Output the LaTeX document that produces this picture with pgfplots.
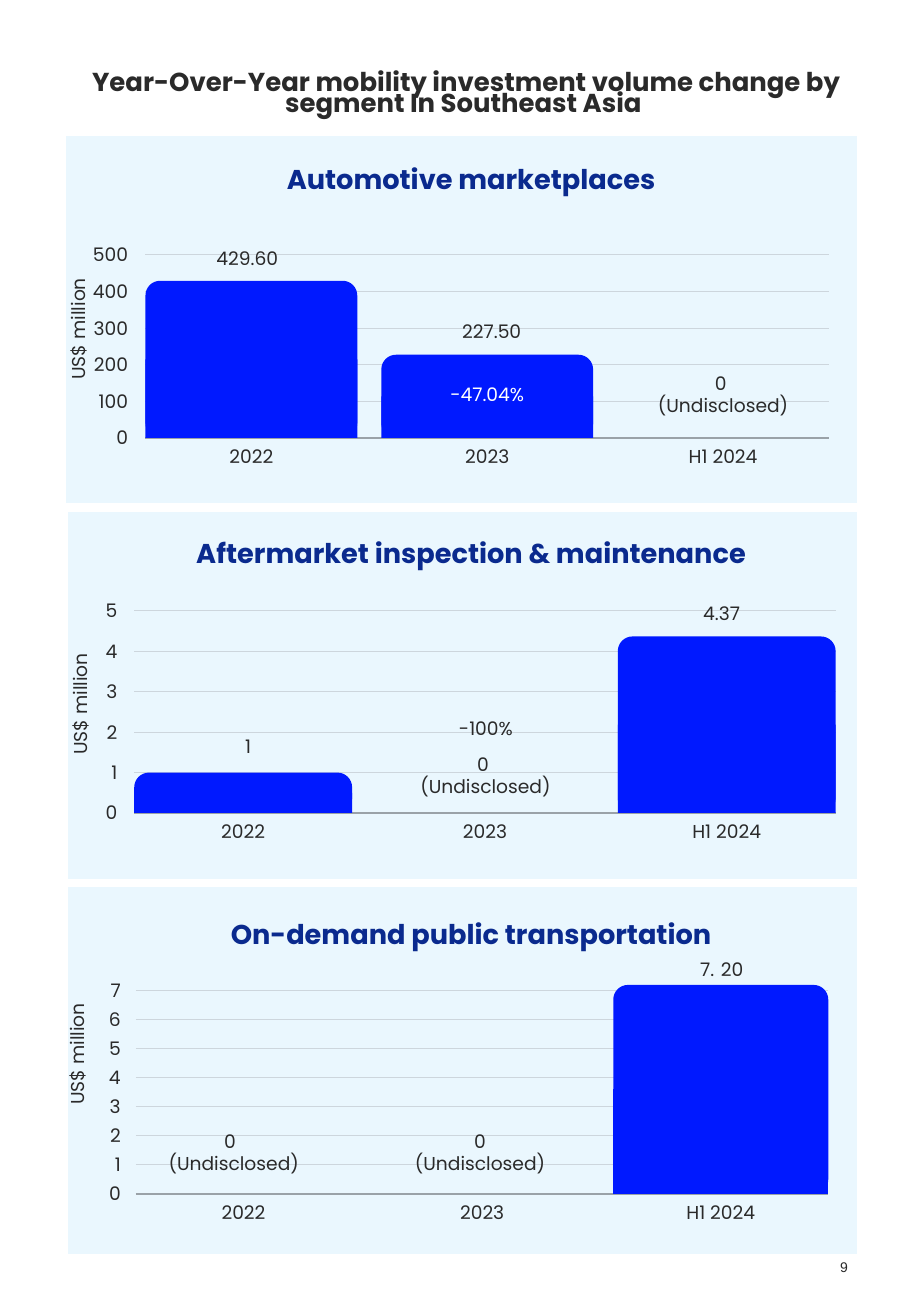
\documentclass[border=0pt]{standalone}
\usepackage{fontspec}
\setmainfont{Poppins}
\newfontfamily\pagefont{Liberation Sans}
\usepackage{pgfplots}
\usepackage{pgfplotstable}
\pgfplotsset{compat=1.18}

\definecolor{panelbg}{HTML}{EAF7FE}
\definecolor{barblue}{HTML}{0019FF}
\definecolor{navy}{HTML}{0A2A8E}
\definecolor{gridc}{HTML}{CDD6DD}
\definecolor{basec}{HTML}{9AA2A8}
\definecolor{txt}{HTML}{2A2A2A}

\newcommand\lbl{\fontsize{14}{16}\selectfont}

% Investment volume, US$ million (x: 0 = 2022, 1 = 2023, 2 = H1 2024)
\pgfplotstableread{
x v
0 429.60
1 227.50
2 0
}\automotive
\pgfplotstableread{
x v
0 1
1 0
2 4.37
}\aftermarket
\pgfplotstableread{
x v
0 0
1 0
2 7.20
}\ondemand

\pgfplotsset{
  segment/.style={
    scale only axis, anchor=south west,
    ybar, enlargelimits=false, clip=false,
    ymin=0,
    xtick={0,1,2}, xticklabels={2022,2023,H1 2024},
    ymajorgrids, grid style={draw=gridc, line width=0.75pt},
    axis x line*=bottom, axis y line*=left,
    x axis line style={draw=basec, line width=0.9pt},
    y axis line style={draw=none},
    major tick length=0pt,
    ticklabel style={font=\lbl, text=txt},
    /pgf/number format/assume math mode=true,
    xticklabel style={anchor=north, inner sep=0pt, yshift=-8.3pt},
    yticklabel style={anchor=east, inner sep=0pt},
    ylabel={US\$ million},
    ylabel style={font=\lbl, text=txt, anchor=center, inner sep=0pt},
  },
  % bar with rounded corners
  segbar/.style={draw=none, fill=barblue, bar shift=0pt, rounded corners=11pt,
    restrict y to domain=0.000001:1000000},
  % square lower half of the same bar, so only the top corners stay rounded
  segfoot/.style={draw=none, fill=barblue, bar shift=0pt, sharp corners,
    restrict y to domain=0.000001:1000000},
}
\tikzset{vlab/.style={font=\lbl, text=txt, inner sep=0pt, anchor=base}}

\begin{document}
\begin{tikzpicture}
\fill[white] (0,0) rectangle (690pt,977.25pt);

% panels
\fill[panelbg] (49.5pt,600pt) rectangle (642.75pt,875.25pt);
\fill[panelbg] (51pt,318pt) rectangle (642.75pt,593.25pt);
\fill[panelbg] (51pt,36.75pt) rectangle (642.75pt,312pt);

% heading
\node[anchor=base, font=\bfseries\fontsize{19.45}{20}\selectfont, text=txt, inner sep=0pt]
  at (349.5pt,908.5pt) {Year-Over-Year mobility investment volume change by};
\node[anchor=base, font=\bfseries\fontsize{19.45}{20}\selectfont, text=txt, inner sep=0pt]
  at (347.5pt,892.5pt) {segment In Southeast Asia};

% panel titles
\node[anchor=base, font=\bfseries\fontsize{20.4}{24}\selectfont, text=navy, inner sep=0pt]
  at (353.25pt,834.75pt) {Automotive marketplaces};
\node[anchor=base, font=\bfseries\fontsize{20.4}{24}\selectfont, text=navy, inner sep=0pt]
  at (353.25pt,554.25pt) {Aftermarket inspection \& maintenance};
\node[anchor=base, font=\bfseries\fontsize{20.4}{24}\selectfont, text=navy, inner sep=0pt]
  at (353.25pt,268.5pt) {On-demand public transportation};

% Automotive marketplaces
\begin{axis}[segment,
  at={(109.1pt,648.75pt)}, width=512.6pt, height=137.25pt,
  xmin=-0.449, xmax=2.449, bar width=0.898,
  ymax=500, ytick={0,100,...,500},
  yticklabel style={xshift=-12.9pt},
  ylabel style={at={(axis description cs:-0.0966,0.596)}},
]
\addplot[segbar] table[x=x, y=v] {\automotive};
\addplot[segfoot] table[x=x, y expr=\thisrow{v}/2] {\automotive};
\node[vlab, yshift=11.1pt] at (axis cs:-0.017,429.6) {429.60};
\node[vlab, yshift=12.3pt] at (axis cs:1.019,227.5) {227.50};
\node[vlab, text=white] at (axis cs:1,99.2) {-47.04\%};
\node[vlab] at (axis cs:1.99,129.2) {0};
\node[vlab] at (axis cs:2,69.1) {(Undisclosed)};
\end{axis}

% Aftermarket inspection & maintenance
\begin{axis}[segment,
  at={(100.7pt,367.5pt)}, width=526pt, height=151.5pt,
  xmin=-0.4504, xmax=2.4504, bar width=0.901,
  ymax=5, ytick={0,1,...,5},
  yticklabel style={xshift=-12.4pt},
  ylabel style={at={(axis description cs:-0.0767,0.54)}},
]
\addplot[segbar] table[x=x, y=v] {\aftermarket};
\addplot[segfoot] table[x=x, y expr=\thisrow{v}/2] {\aftermarket};
\node[vlab, yshift=14.5pt] at (axis cs:0.02,1) {1};
\node[vlab] at (axis cs:1.004,1.906) {-100\%};
\node[vlab] at (axis cs:0.992,1.022) {0};
\node[vlab] at (axis cs:1.002,0.488) {(Undisclosed)};
\node[vlab, yshift=11.9pt] at (axis cs:1.979,4.37) {4.37};
\end{axis}

% On-demand public transportation
\begin{axis}[segment,
  at={(102pt,81.75pt)}, width=519.2pt, height=157.9pt,
  xmin=-0.4505, xmax=2.4505, bar width=0.901,
  ymax=7.25, ytick={0,1,...,7},
  yticklabel style={xshift=-11.25pt},
  ylabel style={at={(axis description cs:-0.0845,0.665)}},
]
\addplot[segbar] table[x=x, y=v] {\ondemand};
\addplot[segfoot] table[x=x, y expr=\thisrow{v}/2] {\ondemand};
\node[vlab] at (axis cs:-0.057,1.574) {0};
\node[vlab] at (axis cs:-0.041,0.80) {(Undisclosed)};
\node[vlab] at (axis cs:0.991,1.574) {0};
\node[vlab] at (axis cs:0.991,0.80) {(Undisclosed)};
\node[vlab] at (axis cs:2.004,7.48) {7. 20};
\end{axis}

% page number
\node[anchor=base, font=\pagefont\fontsize{10.5}{12}\selectfont, text=txt, inner sep=0pt]
  at (633pt,22.5pt) {9};
\end{tikzpicture}
\end{document}
